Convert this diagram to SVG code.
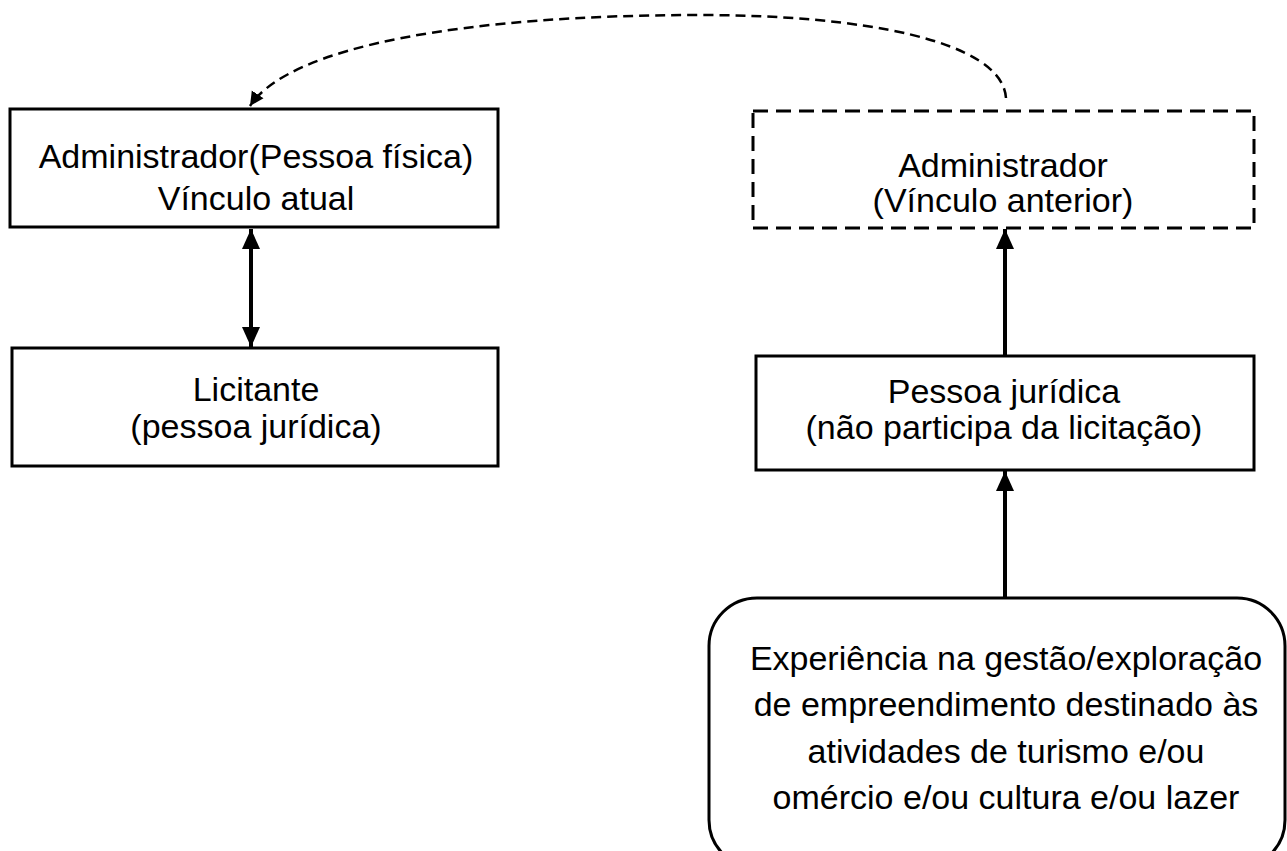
<svg xmlns="http://www.w3.org/2000/svg" width="1287" height="851" viewBox="0 0 1287 851">
<style>
.box{fill:#fff;stroke:#000;stroke-width:3}
.dbox{fill:#fff;stroke:#000;stroke-width:3;stroke-dasharray:15 8}
.t{font-family:"Liberation Sans",Arial,sans-serif;font-size:34px;fill:#000;text-anchor:middle}
.c{fill:none;stroke:#000;stroke-width:4}
.dc{fill:none;stroke:#000;stroke-width:2.5;stroke-dasharray:10 6}
</style>
<defs>
<marker id="ah" markerUnits="userSpaceOnUse" markerWidth="20" markerHeight="20" viewBox="0 0 20 20" refX="20" refY="10" orient="auto-start-reverse">
<path d="M0,1 L20,10 L0,19 Z" fill="#000"/>
</marker>
<marker id="ahs" markerUnits="userSpaceOnUse" markerWidth="16" markerHeight="16" viewBox="0 0 16 16" refX="14" refY="8" orient="auto">
<path d="M0,1 L14,8 L0,15 Z" fill="#000"/>
</marker>
</defs>
<g id="connectors">
<line class="c" x1="251" y1="229" x2="251" y2="347" marker-start="url(#ah)" marker-end="url(#ah)"/>
<line class="c" x1="1005" y1="355" x2="1005" y2="229" marker-end="url(#ah)"/>
<line class="c" x1="1005" y1="597" x2="1005" y2="471" marker-end="url(#ah)"/>
<path class="dc" d="M1006,98 C1002,40 860,15 700,15 C470,15 290,45 250,106" marker-end="url(#ahs)"/>
</g>
<g id="n1">
<rect class="box" x="10" y="109" width="488" height="118"/>
<text class="t" x="256" y="168">Administrador(Pessoa física)</text>
<text class="t" x="256" y="210">Vínculo atual</text>
</g>
<g id="n2">
<rect class="box" x="12" y="348" width="486" height="118"/>
<text class="t" x="256" y="401">Licitante</text>
<text class="t" x="256" y="438">(pessoa jurídica)</text>
</g>
<g id="n3">
<rect class="dbox" x="753" y="111" width="501" height="117"/>
<text class="t" x="1003" y="177">Administrador</text>
<text class="t" x="1003" y="212">(Vínculo anterior)</text>
</g>
<g id="n4">
<rect class="box" x="756" y="356" width="498" height="114"/>
<text class="t" x="1004" y="403">Pessoa jurídica</text>
<text class="t" x="1004" y="439">(não participa da licitação)</text>
</g>
<g id="n5">
<rect class="box" x="709" y="598" width="576" height="270" rx="48" ry="48"/>
<text class="t" x="1006" y="670">Experiência na gestão/exploração</text>
<text class="t" x="1006" y="716">de empreendimento destinado às</text>
<text class="t" x="1006" y="763">atividades de turismo e/ou</text>
<text class="t" x="1006" y="809">omércio e/ou cultura e/ou lazer</text>
</g>
</svg>
